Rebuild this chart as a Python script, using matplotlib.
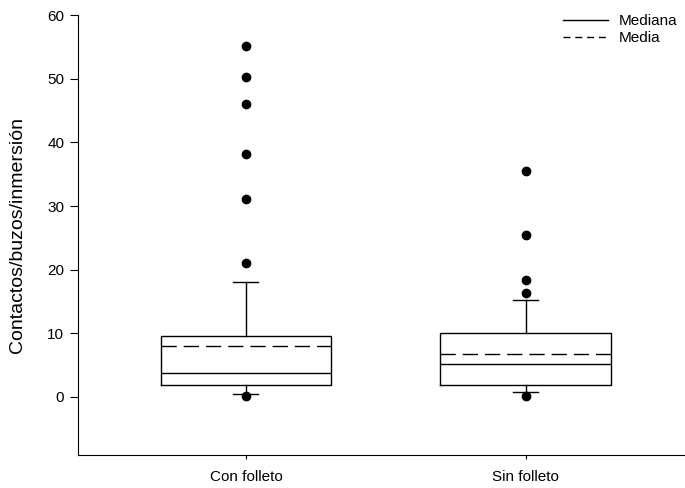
import matplotlib
matplotlib.use("Agg")
import matplotlib.pyplot as plt
from matplotlib.lines import Line2D

plt.rcParams['font.family'] = ['Liberation Sans', 'DejaVu Sans']

# grupos y estadisticos
grupos = ["Con folleto", "Sin folleto"]
q1 = [1.9, 1.9]
mediana = [3.8, 5.2]
media = [8.0, 6.8]
q3 = [9.6, 10.1]
bigote_inf = [0.5, 0.7]
bigote_sup = [18.0, 15.2]
atipicos = [
    [0.2, 21.0, 31.1, 38.1, 46.1, 50.2, 55.1],
    [0.1, 16.4, 18.4, 25.4, 35.5],
]

stats = []
for i in range(len(grupos)):
    stats.append(dict(label=grupos[i], q1=q1[i], med=mediana[i], mean=media[i],
                      q3=q3[i], whislo=bigote_inf[i], whishi=bigote_sup[i],
                      fliers=atipicos[i]))

fig = plt.figure(figsize=(6.85, 4.88), dpi=100)
ax = fig.add_axes([0.114, 0.068, 0.89, 0.901])

ax.bxp(stats, positions=[1, 2], widths=0.61, capwidths=0.09,
       showmeans=True, meanline=True,
       boxprops=dict(color="black", lw=1),
       whiskerprops=dict(color="black", lw=1),
       capprops=dict(color="black", lw=1),
       medianprops=dict(color="black", lw=1),
       meanprops=dict(color="black", lw=1, linestyle=(0, (11, 5))),
       flierprops=dict(marker="o", markerfacecolor="black", markeredgecolor="black",
                       markersize=6))

ax.set_xlim(0.4, 2.58)
ax.set_ylim(-9.1, 60)
ax.set_yticks(range(0, 61, 10))
ax.set_xticks([1, 2])
ax.set_xticklabels(grupos, fontsize=11)
ax.tick_params(axis="y", labelsize=11, length=6, pad=4, direction="out")
ax.tick_params(axis="x", length=3, direction="out", pad=8)
ax.spines["top"].set_visible(False)
ax.spines["right"].set_visible(False)
ax.set_ylabel("Contactos/buzos/inmersión", fontsize=14, labelpad=15)

handles = [Line2D([], [], color="black", lw=1),
           Line2D([], [], color="black", lw=1, linestyle=(0, (5, 3.5)))]
ax.legend(handles, ["Mediana", "Media"], loc="upper right", frameon=False,
          fontsize=11, handlelength=2.9, handletextpad=0.7, borderaxespad=0.1,
          labelspacing=0.2, bbox_to_anchor=(0.995, 1.02))

fig.savefig("out.png", dpi=100)
